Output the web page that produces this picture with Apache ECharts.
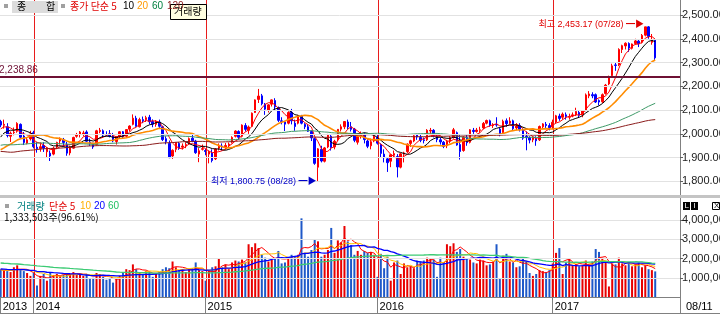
<!DOCTYPE html>
<html><head><meta charset="utf-8">
<script src="https://cdn.jsdelivr.net/npm/echarts@6/dist/echarts.min.js"></script>
<style>html,body{margin:0;padding:0;background:#fff}#c{width:720px;height:314px}</style>
</head><body><div id="c"></div>
<script>
// ---------------- DATA ----------------
// weekly closes before the visible window (Jun 2011 - Oct 18 2013), used only for the long moving averages
const priorCloses = [2064,2120,2180,2145,2170,2133,1943,1794,1744,1776,1867,1812,1839,1697,1769,1759,1859,1828,1939,1903,1860,1839,1775,1915,1900,1840,1839,1826,
1843,1862,1904,1949,1956,1994,2004,2020,2034,2018,2049,2028,2014,2006,1986,1997,1961,1989,1917,1783,1810,1834,1819,1854,1877,1854,1858,1827,1831,1782,1867,1943,1946,1919,1906,1916,2007,2003,1996,1986,1928,1943,1891,1922,1906,1860,1904,1932,1957,1994,1981,1997,
2011,1996,2000,1946,1957,1950,1981,2018,2027,2006,1987,1946,2004,1927,1924,1943,1944,1954,1959,1969,1970,2001,1923,1882,1822,1863,1833,1877,1875,1910,1920,1883,1939,1870,1926,1951,2008,2005,1998,1994,2024,2052];
const firstWeek = '2013-10-25';   // Friday of the first visible weekly candle
const opens = [2052,2036,2030,1990,2005,2011,2040,1991,1961,1979,
2005,1944,1938,1951,1925,1919,1915,1945,1970,1975,
1956,1920,1940,1990,1997,2000,2008,1966,1961,1955,
2010,2013,1996,2000,1990,1968,1990,2009,1990,2020,
2040,2066,2030,2060,2060,2070,2052,2040,2050,2030,
1980,1960,1907,1935,1960,1944,1950,1960,1982,1970,
1915,1935,1930,1915,1920,1895,1940,1949,1945,1950,
1965,1990,2010,1990,2035,2015,2032,2090,2145,2160,
2125,2100,2125,2140,2110,2055,2050,2045,2090,2045,
2045,2075,2040,2030,2010,1980,1860,1935,1885,1945,
1990,1945,1975,2020,2030,2050,2030,2020,1965,1990,
1995,1970,1950,1970,1985,1955,1915,1895,1885,1910,
1905,1860,1915,1925,1960,1970,1995,1985,1975,1975,
2012,2015,1990,1975,1965,1950,1970,1985,2005,1955,
1930,1985,1965,2015,2010,2015,2025,2045,2055,2035,
2040,2020,2005,2055,2045,2055,2025,2035,2015,1990,
1985,1975,1980,1975,2030,2040,2035,2030,2050,2075,
2070,2080,2070,2075,2080,2090,2080,2100,2160,2165,
2165,2140,2135,2170,2210,2245,2290,2290,2355,2370,
2380,2360,2380,2390,2385,2415,2450,2385,2395];
const highs = [2059,2060,2045,2010,2027,2049,2044,2008,1985,2013,
2013,1965,1964,1965,1945,1930,1946,1967,1985,1983,
1966,1950,1988,2004,2012,2013,2015,1980,1962,2017,
2025,2019,2011,2016,2004,1991,2012,2012,2020,2036,
2082,2076,2068,2073,2076,2080,2061,2058,2060,2034,
1990,1972,1935,1966,1966,1960,1965,1985,2001,1975,
1940,1955,1938,1930,1935,1940,1960,1960,1962,1964,
1990,2015,2015,2040,2045,2035,2090,2145,2189,2168,
2130,2125,2145,2150,2115,2070,2055,2095,2105,2060,
2080,2080,2045,2040,2015,1985,1940,1950,1945,2000,
1995,1975,2020,2040,2053,2060,2050,2025,1995,2010,
2005,1975,1980,1995,1995,1960,1935,1900,1915,1930,
1915,1920,1925,1960,1975,1995,2000,2000,1985,2020,
2025,2020,2000,1985,1970,1975,1990,2025,2010,1995,
1990,1995,2020,2025,2025,2030,2050,2060,2060,2045,
2070,2025,2060,2065,2070,2060,2045,2045,2020,2010,
1990,1990,1990,2035,2045,2050,2045,2060,2080,2085,
2090,2090,2085,2090,2110,2100,2100,2170,2180,2175,
2170,2145,2170,2210,2245,2295,2300,2360,2375,2385,
2385,2380,2400,2395,2420,2450,2453.17,2420,2400];
const lows = [2028,2022,1985,1966,1994,2005,1978,1953,1956,1972,
1939,1921,1925,1924,1901,1886,1910,1936,1955,1946,
1908,1910,1938,1984,1985,1990,1966,1950,1937,1950,
2003,1985,1990,1985,1965,1955,1980,1983,1985,2010,
2036,2031,2027,2045,2050,2040,2028,2030,2025,1970,
1956,1898,1895,1923,1933,1935,1940,1955,1965,1916,
1881,1930,1910,1876,1880,1890,1930,1930,1935,1945,
1960,1985,1975,1985,2010,2000,2030,2088,2130,2120,
2080,2090,2115,2100,2050,2040,2012,2040,2040,2013,
2040,2040,2020,2008,1970,1870,1800.75,1880,1880,1940,
1930,1935,1970,2010,2020,2020,2010,1965,1955,1980,
1960,1940,1935,1965,1955,1900,1880,1840,1860,1900,
1817,1855,1880,1920,1945,1965,1975,1965,1960,1970,
2000,1985,1965,1955,1940,1940,1960,1980,1950,1892,
1925,1950,1960,2000,2005,2005,2020,2040,2030,2025,
2030,1990,2000,2030,2040,2015,2015,2010,1975,1931,
1960,1965,1950,1970,2020,2025,2015,2020,2045,2055,
2060,2060,2060,2070,2075,2070,2070,2095,2150,2150,
2130,2120,2130,2165,2205,2240,2265,2285,2340,2355,
2345,2355,2375,2365,2380,2410,2400,2375,2310];
const closes = [2037,2040,1993,2003,2007,2044,1986,1964,1975,2000,
1946,1938,1946,1940,1941,1907,1940,1964,1980,1964,
1919,1946,1985,1996,2008,2004,1969,1961,1945,2013,
2015,1995,1995,1991,1970,1988,2009,1988,2018,2033,
2066,2031,2060,2055,2068,2051,2041,2053,2032,1976,
1968,1900,1931,1964,1939,1949,1955,1980,1971,1921,
1929,1938,1926,1924,1888,1936,1952,1946,1951,1957,
1985,2012,1986,2037,2019,2029,2087,2143,2159,2127,
2104,2122,2143,2114,2057,2052,2041,2090,2055,2031,
2076,2045,2030,2011,1983,1876,1937,1886,1941,1995,
1942,1969,2019,2030,2052,2029,2019,1973,1989,1994,
1976,1948,1967,1990,1961,1918,1900,1879,1912,1917,
1861,1916,1920,1957,1971,1992,1987,1973,1972,2015,
2015,1994,1976,1966,1947,1969,1985,2017,1953,1926,
1987,1963,2017,2010,2016,2017,2044,2056,2037,2038,
2037,1999,2053,2043,2054,2022,2033,2019,1982,1984,
1974,1985,1971,2031,2042,2035,2026,2049,2076,2065,
2083,2073,2072,2080,2094,2078,2097,2164,2168,2160,
2134,2134,2165,2205,2241,2286,2288,2355,2371,2381,
2361,2378,2391,2379,2414,2450,2410,2395,2319.71];
// weekly volume, millions of (thousand) shares
const priorVolumes = [2.10,2.25,1.95,2.30,2.05,1.90,2.15,2.40,2.00,1.85,
1.95,2.20,2.05,1.80,1.90,2.35,2.10,1.95,2.00,1.75,
1.85,2.05,1.90,1.70,1.95,2.15,1.80,1.65,1.90,2.00,
1.75,1.85,1.60,1.70,1.95,2.10,1.80,1.55,1.65,1.75,
1.60,1.50,1.70,1.55,1.45,1.65,1.50,1.40,1.55,1.45,
1.35,1.50,1.40,1.30,1.45,1.35,1.50,1.40,1.30,1.45];
const volumes = [1.45,1.40,1.35,1.30,1.55,1.65,1.40,1.35,1.25,1.10,
1.25,0.60,1.10,1.20,0.85,1.25,1.15,1.20,1.10,1.15,
1.25,1.20,1.30,1.15,1.20,1.10,1.20,0.95,1.00,1.25,
1.20,1.05,0.90,1.00,0.75,0.95,1.10,1.30,1.45,1.40,
1.70,1.45,1.30,1.20,1.35,1.30,1.05,1.25,1.30,1.45,
1.55,1.50,1.85,1.55,1.40,1.45,1.30,1.45,1.50,1.80,
1.40,1.35,0.85,1.40,1.55,1.60,2.00,1.55,1.70,1.45,
1.80,1.90,1.85,1.95,1.80,2.75,2.60,2.80,2.55,2.20,
2.05,1.85,1.95,2.00,2.40,1.75,1.80,2.05,2.20,2.10,
2.20,4.10,2.30,2.10,2.45,3.00,2.90,2.10,2.20,2.45,
3.60,2.30,2.95,2.85,3.70,2.90,2.70,2.20,2.40,2.20,
2.40,2.30,2.35,2.20,1.05,2.25,1.50,2.10,0.85,1.80,
1.90,1.20,1.75,1.55,1.60,1.50,1.90,1.85,1.90,2.05,
2.00,1.95,1.05,2.05,1.80,2.75,2.65,2.80,2.35,2.50,
2.10,2.00,1.95,1.80,1.75,1.95,1.90,1.65,1.70,1.85,
2.75,0.95,2.15,2.25,1.85,1.80,1.55,1.60,2.00,1.85,
1.25,1.10,1.20,1.40,1.35,1.30,1.40,1.75,2.30,2.55,
1.20,1.80,2.00,1.65,1.70,1.60,1.65,1.90,1.65,1.85,
2.50,2.35,2.05,1.80,0.55,1.75,1.70,2.05,1.75,1.65,
1.80,1.60,1.70,1.80,1.55,1.65,1.45,1.40,1.333503];
const priceTicks = [1800,1900,2000,2100,2200,2300,2400,2500];
const volumeTicks = [1,2,3,4];
const yearStartIdx = [0,10,62,114,167];
const yearLineIdx = [10,62,114,167];
const priceMaPeriods = [5,10,20,60,120];
const priceMaColors = ['#FF0000','#000000','#FF8C00','#3E9A68','#8B1C1C'];
const volMaPeriods = [5,10,20,60];
const volMaColors = ['#FF0000','#FFC000','#0000FF','#3CCB74'];
const refLevel = 2238.86;
const lastChangeText = '-3.16%';
const lastVolumeText = '1,333,503주(96.61%)';
const lastDateText = '08/11';

// ---------------- BUILD ----------------
const FONT = "'Liberation Sans','Noto Sans CJK KR',sans-serif";
const KFONT = "'Noto Sans CJK KR',sans-serif";
const PRICE_GRID = {left: -1, top: 0, width: 681, height: 195};
const VOL_GRID = {left: -1, top: 198, width: 681, height: 99};
const dates = [];
const t0 = Date.parse(firstWeek + 'T00:00:00Z');
for (let i = 0; i < closes.length; i++) dates.push(new Date(t0 + i * 7 * 864e5).toISOString().slice(0, 10));
const cats = dates.slice();
for (let k = 0; k < 7; k++) cats.push('pad' + k);

function sma(prior, vals, n) {
  const all = prior.concat(vals), off = prior.length;
  return vals.map((_, i) => {
    const j = off + i; if (j + 1 < n) return '-';
    let s = 0; for (let k = j - n + 1; k <= j; k++) s += all[k];
    return +(s / n).toFixed(3);
  });
}
const fmt2 = v => v.toLocaleString('en-US', {minimumFractionDigits: 2, maximumFractionDigits: 2});
const candleData = closes.map((c, i) => [opens[i], c, lows[i], highs[i]]);
const UP = '#FF0000', DOWN = '#0000FF';
const volData = volumes.map((v, i) => ({value: v, itemStyle: {color: closes[i] >= opens[i] ? '#E80000' : '#1E58C8'}}));
let hiIdx = 0, loIdx = 0;
highs.forEach((h, i) => { if (h > highs[hiIdx]) hiIdx = i; });
lows.forEach((l, i) => { if (l < lows[loIdx]) loIdx = i; });
const mmdd = s => s.slice(5, 7) + '/' + s.slice(8, 10);

// vertical year-start lines: x from the category axis (api.coord), running through both panes
const yearLineSeries = {type: 'custom', xAxisIndex: 0, yAxisIndex: 0, z: 3.5, silent: true, clip: false,
  data: yearLineIdx.map(i => [i, priceTicks[0]]),
  renderItem: (params, api) => {
    const x = Math.round(api.coord([api.value(0), api.value(1)])[0]) + 0.5;
    const cs = params.coordSys;
    return {type: 'line', shape: {x1: x, y1: cs.y, x2: x, y2: VOL_GRID.top + VOL_GRID.height}, style: {stroke: '#E81C1C', lineWidth: 1}};
  }};
const gridLines = (xi, ticks) => ({type: 'line', xAxisIndex: xi, yAxisIndex: xi, data: [], z: 1, silent: true,
   markLine: {silent: true, symbol: 'none', animation: false, label: {show: false},
     lineStyle: {color: '#E2E2E2', width: 1, type: 'solid'}, data: ticks.map(v => ({yAxis: v}))}});
const series = [
  gridLines(0, priceTicks),
  gridLines(1, volumeTicks),
  {type: 'candlestick', name: 'KOSPI', xAxisIndex: 0, yAxisIndex: 0, data: candleData, barWidth: 2, z: 3,
   itemStyle: {color: UP, color0: DOWN, borderColor: UP, borderColor0: DOWN, borderWidth: 1},
   markLine: {silent: true, symbol: 'none', animation: false, data: [
     {yAxis: closes[closes.length - 1], lineStyle: {opacity: 0, width: 0},
      label: {show: true, position: 'end', distance: 3, padding: [11, 0, 0, 0],
        formatter: '{a|' + fmt2(closes[closes.length - 1]) + '}\n{b|' + lastChangeText + '}',
        rich: {a: {backgroundColor: '#0000FF', color: '#fff', fontSize: 10, fontFamily: FONT, padding: [1, 2, 0, 2], lineHeight: 11},
               b: {color: '#0000FF', fontSize: 10, fontFamily: FONT, padding: [0, 2], lineHeight: 11}}}},
     {yAxis: refLevel, lineStyle: {color: '#6E1034', width: 2, type: 'solid'},
      label: {show: true, position: 'insideStartTop', formatter: fmt2(refLevel), color: '#6E1034', fontSize: 10, fontFamily: FONT, distance: [0, 2]}}
   ]},
   markPoint: {silent: true, animation: false, data: [
     {coord: [cats[hiIdx], highs[hiIdx]], symbol: 'circle', symbolSize: 1, itemStyle: {color: 'rgba(0,0,0,0)'},
      label: {show: true, position: 'left', distance: 4, offset: [0, -2], color: '#E00000', fontSize: 9, fontFamily: FONT,
        formatter: '최고 ' + fmt2(highs[hiIdx]) + ' (' + mmdd(dates[hiIdx]) + ') ━▶'}},
     {coord: [cats[loIdx], lows[loIdx]], symbol: 'circle', symbolSize: 1, itemStyle: {color: 'rgba(0,0,0,0)'},
      label: {show: true, position: 'left', distance: 1, color: '#0000C8', fontSize: 9, fontFamily: FONT,
        formatter: '최저 ' + fmt2(lows[loIdx]) + ' (' + mmdd(dates[loIdx]) + ') ━▶'}}
   ]}},
  yearLineSeries
];
priceMaPeriods.forEach((n, k) => series.push({type: 'line', xAxisIndex: 0, yAxisIndex: 0, z: 4, silent: true,
  data: sma(priorCloses, closes, n), showSymbol: false, symbol: 'none',
  lineStyle: {color: priceMaColors[k], width: n === 20 ? 1.6 : 1}}));
series.push({type: 'bar', xAxisIndex: 1, yAxisIndex: 1, data: volData, barWidth: 2, z: 3, silent: true});
volMaPeriods.forEach((n, k) => series.push({type: 'line', xAxisIndex: 1, yAxisIndex: 1, z: 4, silent: true,
  data: sma(priorVolumes, volumes, n), showSymbol: false, symbol: 'none',
  lineStyle: {color: volMaColors[k], width: n >= 20 ? 1.3 : 1}}));

const isYear = idx => yearStartIdx.indexOf(idx) >= 0;
const txt = (x, y, s, color, size, font) => ({type: 'text', x: x, y: y, z: 50, silent: true,
  style: {text: s, fill: color, font: (size || 10) + 'px ' + (font || KFONT), textVerticalAlign: 'top'}});
const rect = (x, y, w, h, fill, stroke) => ({type: 'rect', z: 49, silent: true, shape: {x: x, y: y, width: w, height: h},
  style: {fill: fill, stroke: stroke || null, lineWidth: 1}});

const option = {
  animation: false,
  backgroundColor: '#fff',
  grid: [Object.assign({containLabel: false, outerBoundsMode: 'none'}, PRICE_GRID),
         Object.assign({containLabel: false, outerBoundsMode: 'none'}, VOL_GRID)],
  xAxis: [
    {type: 'category', gridIndex: 0, data: cats, boundaryGap: true, axisLine: {show: false}, axisTick: {show: false}, axisLabel: {show: false}, splitLine: {show: false}},
    {type: 'category', gridIndex: 1, data: cats, boundaryGap: true,
     axisLine: {show: true, lineStyle: {color: '#808080', width: 1}},
     axisTick: {show: true, alignWithLabel: true, interval: (i) => isYear(i), length: 16, lineStyle: {color: '#808080'}},
     axisLabel: {show: true, interval: (i) => isYear(i), formatter: (v) => v.slice(0, 4), align: 'left', margin: 4, padding: [0, 0, 0, 2],
       color: '#000', fontSize: 11, fontFamily: FONT},
     splitLine: {show: false}}
  ],
  yAxis: [
    {type: 'value', gridIndex: 0, position: 'right', min: 1743, max: 2563, splitLine: {show: false},
     axisLine: {show: true, lineStyle: {color: '#808080'}},
     axisTick: {show: true, customValues: priceTicks, length: 3, lineStyle: {color: '#606060'}},
     axisLabel: {show: true, customValues: priceTicks, formatter: fmt2, margin: 2, color: '#202020', fontSize: 11, fontFamily: FONT}},
    {type: 'value', gridIndex: 1, position: 'right', min: 0, max: 5.16, splitLine: {show: false},
     axisLine: {show: true, lineStyle: {color: '#808080'}},
     axisTick: {show: true, customValues: volumeTicks, length: 3, lineStyle: {color: '#606060'}},
     axisLabel: {show: true, customValues: volumeTicks, formatter: v => Math.round(v * 1e6).toLocaleString('en-US'), margin: 2, color: '#202020', fontSize: 11, fontFamily: FONT}}
  ],
  series: series,
  graphic: [
    rect(0, 195, 720, 3, '#C4C4C4'),
    {type: 'line', z: 49, silent: true, shape: {x1: 0, y1: 313.5, x2: 720, y2: 313.5}, style: {stroke: '#808080', lineWidth: 1}},
    {type: 'line', z: 49, silent: true, shape: {x1: 680.5, y1: 297, x2: 680.5, y2: 314}, style: {stroke: '#808080', lineWidth: 1}},
    txt(686, 301, lastDateText, '#000', 11, FONT),
    // top legend
    rect(4, 4, 4, 4, '#A0A0A0'),
    rect(12, 1, 46, 12, '#DCDCDC'),
    txt(17, 1, '종', '#000', 10), txt(46, 1, '합', '#000', 10),
    rect(61, 4, 4, 4, '#A0A0A0'),
    txt(70, 1, '종가 단순 5', '#E00000', 10),
    txt(123, 1, '10', '#000', 10, FONT), txt(137, 1, '20', '#FF9900', 10, FONT), txt(152, 1, '60', '#008040', 10, FONT), txt(167, 1, '120', '#8B1C1C', 10, FONT),
    rect(170.5, 4.5, 36, 15, '#FFFFE1', '#000'),
    txt(174, 6, '거래량', '#000', 10),
    // volume legend
    rect(5, 204, 4, 4, '#A0A0A0'),
    txt(17, 201, '거래량', '#008080', 10),
    txt(49, 201, '단순 5', '#E00000', 10),
    txt(80, 201, '10', '#FFB000', 10, FONT), txt(94, 201, '20', '#0000FF', 10, FONT), txt(108, 201, '60', '#20C060', 10, FONT),
    txt(4, 212, lastVolumeText, '#000', 10),
    rect(683, 202, 7, 8, '#000'), txt(684.5, 201.5, 'L', '#fff', 8, FONT),
    rect(691, 202, 7, 8, '#000'), txt(693.5, 201.5, 'I', '#fff', 8, FONT),
    rect(712.5, 202.5, 7, 7, '#fff', '#000'), txt(714, 201.5, 'X', '#000', 8, FONT)
  ]
};
const chart = echarts.init(document.getElementById('c'), null, {renderer: 'canvas'});
chart.setOption(option);
</script></body></html>
